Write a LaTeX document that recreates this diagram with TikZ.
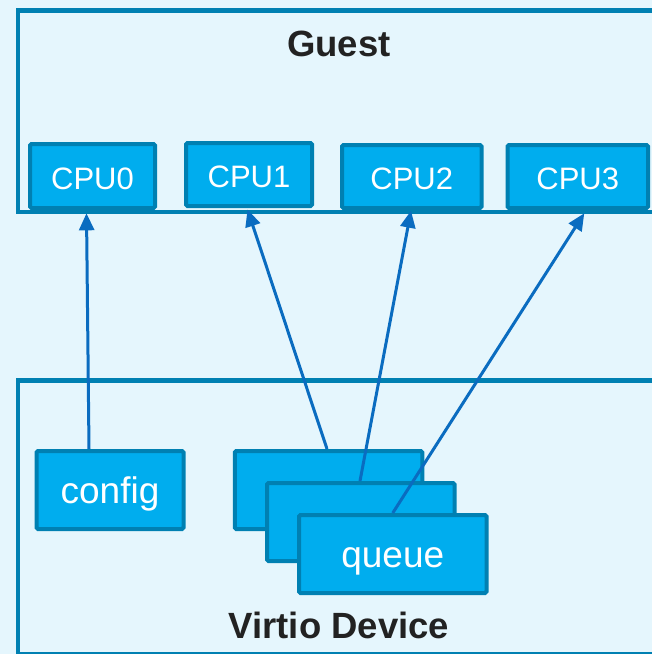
\documentclass[tikz,border=0pt]{standalone}
\usepackage{fontspec}
\setmainfont{Liberation Sans}
\usetikzlibrary{arrows.meta}

\definecolor{bgblue}{HTML}{E5F6FD}
\definecolor{boxfill}{HTML}{00ADEE}
\definecolor{boxline}{HTML}{0080B2}
\definecolor{linkblue}{HTML}{0A6CC0}
\definecolor{titlegray}{HTML}{222222}

\tikzset{
  frame/.style={draw=boxline, line width=4.5pt},
  unit/.style={draw=boxline, fill=boxfill, line width=4pt, rounded corners=1.5pt,
    text=white, inner sep=0pt, text height=26pt, text depth=0pt},
  cpubox/.style={unit, font=\fontsize{31}{37}\selectfont},
  devbox/.style={unit, font=\fontsize{37}{44}\selectfont,
    minimum width=187.5pt, minimum height=78pt},
  title/.style={anchor=base, text=titlegray, font=\bfseries\fontsize{36.5}{44}\selectfont},
  link/.style={draw=linkblue, line width=3pt,
    -{Triangle[length=17pt,width=15pt]}}
}

\begin{document}
\begin{tikzpicture}[x=1pt,y=-1pt]
  \useasboundingbox (0,0) rectangle (652,654);
  \fill[bgblue] (0,0) rectangle (652,654);

  % guest and device frames, running off the right edge
  \draw[frame] (680,10.5) -- (18,10.5) -- (18,212) -- (680,212);
  \draw[frame] (680,654) -- (18,654) -- (18,380.5) -- (680,380.5);

  \node[title] (guest) at (339,56) {Guest};
  \node[title] (device) at (339,638) {Virtio Device};

  % virtual CPUs
  \node[cpubox, minimum width=125pt, minimum height=64pt]   (cpu0) at (92.5,176)   {CPU0};
  \node[cpubox, minimum width=126pt, minimum height=63pt]   (cpu1) at (249,174.5)  {CPU1};
  \node[cpubox, minimum width=139.5pt, minimum height=63pt] (cpu2) at (411.75,176.5) {CPU2};
  \node[cpubox, minimum width=140.5pt, minimum height=63pt] (cpu3) at (577.75,176.5) {CPU3};

  % device parts
  \node[devbox, minimum width=147pt] (config) at (110,490) {config};
  \node[devbox] (q1) at (328.5,490) {};
  \node[devbox] (q2) at (360.75,522) {};
  \node[devbox] (q3) at (392.75,554) {queue};

  % notifications to the CPUs
  \draw[link] ([xshift=-21pt]config.north) -- ([xshift=-6pt,yshift=-3.3pt]cpu0.south);
  \draw[link] ([xshift=-1.5pt]q1.north) -- ([xshift=-1.5pt,yshift=-1.5pt]cpu1.south);
  \draw[link] ([xshift=-0.75pt]q2.north) -- ([xshift=-0.75pt,yshift=-0.7pt]cpu2.south);
  \draw[link] (q3.north) -- ([xshift=6.5pt,yshift=-3.3pt]cpu3.south);
\end{tikzpicture}
\end{document}
